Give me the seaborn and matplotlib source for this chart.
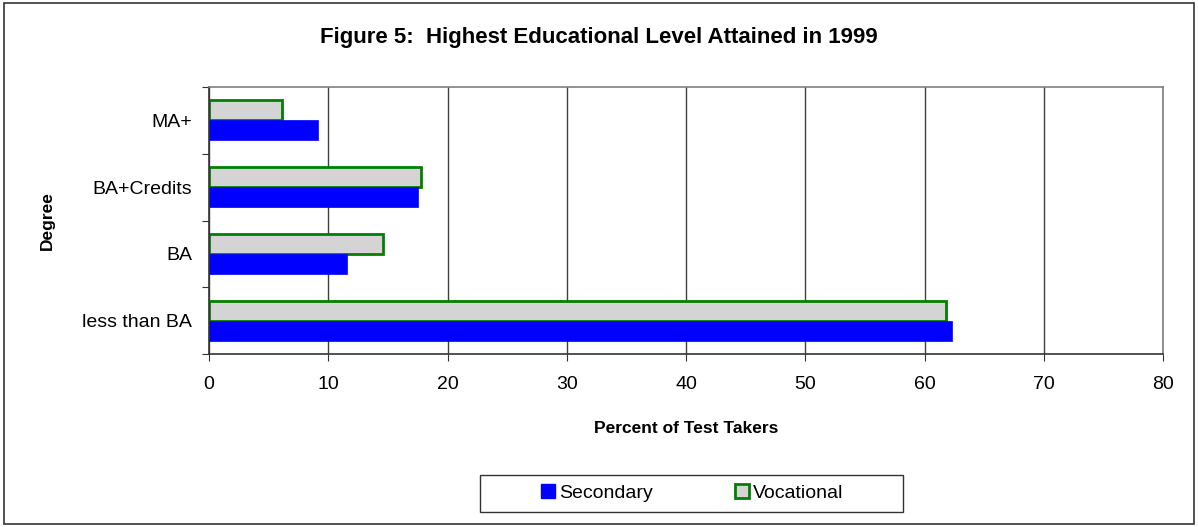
import pandas as pd
import matplotlib.pyplot as plt
import seaborn as sns
from matplotlib.patches import Patch, Rectangle

# Data
degrees = ['MA+', 'BA+Credits', 'BA', 'less than BA']
secondary = [9.1, 17.5, 11.6, 62.3]
vocational = [6.1, 17.8, 14.6, 61.8]

df = pd.DataFrame({
    'Degree': degrees * 2,
    'Percent': vocational + secondary,
    'Group': ['Vocational'] * 4 + ['Secondary'] * 4,
})

sns.set_style('white')
plt.rcParams['font.family'] = ['Liberation Sans', 'DejaVu Sans']
plt.rcParams['text.color'] = 'black'
plt.rcParams['axes.labelcolor'] = 'black'
plt.rcParams['xtick.color'] = 'black'
plt.rcParams['ytick.color'] = 'black'

W, H = 1198, 527
fig = plt.figure(figsize=(W / 100, H / 100), dpi=100)
ax = fig.add_axes([209 / W, 1 - 354 / H, (1163 - 209) / W, (354 - 87) / H])

sns.barplot(data=df, x='Percent', y='Degree', hue='Group', order=degrees,
            hue_order=['Vocational', 'Secondary'], orient='h', width=0.6,
            palette={'Vocational': '#d4d4d4', 'Secondary': '#0000ff'},
            ax=ax, legend=False, gap=0, saturation=1)

for bar in ax.containers[0]:
    bar.set_edgecolor('#008000')
    bar.set_linewidth(2)
for bar in ax.containers[1]:
    bar.set_edgecolor('#0000ff')
    bar.set_linewidth(0.5)

ax.set_xlim(0, 80)
ax.set_ylim(3.5, -0.5)
ax.set_xticks(range(0, 81, 10))
ax.xaxis.grid(True, color='#404040', linewidth=1)
ax.set_axisbelow(True)

# ticks between categories, labels at centres
ax.set_yticks([-0.5, 0.5, 1.5, 2.5, 3.5])
ax.set_yticklabels([])
ax.set_yticks(range(4), minor=True)
ax.set_yticklabels(degrees, minor=True)
ax.tick_params(axis='y', which='minor', length=0, pad=12, labelsize=14)
ax.tick_params(axis='y', which='major', length=5, direction='out', left=True, color='#333333')
ax.tick_params(axis='x', length=5, direction='out', bottom=True, labelsize=14, pad=11, color='#333333')

for side in ['left', 'bottom']:
    ax.spines[side].set_color('#333333')
for side in ['top', 'right']:
    ax.spines[side].set_color('#808080')
for s in ax.spines.values():
    s.set_linewidth(1.2)

ax.set_xlabel('Percent of Test Takers', fontsize=12.5, fontweight='bold', labelpad=20)
ax.set_ylabel('Degree', fontsize=12.5, fontweight='bold')
ax.yaxis.set_label_coords(-0.162, 0.5)

fig.text(0.5, 1 - 37 / H, 'Figure 5:  Highest Educational Level Attained in 1999',
         ha='center', va='center', fontsize=16, fontweight='bold')

handles = [Patch(facecolor='#0000ff', edgecolor='#0000ff', label='Secondary'),
           Patch(facecolor='#d4d4d4', edgecolor='#008000', linewidth=2, label='Vocational')]
leg = fig.legend(handles=handles, loc='center', bbox_to_anchor=(692 / W, 1 - 493 / H),
                 ncol=2, fontsize=14, frameon=False, columnspacing=4.2,
                 handlelength=0.75, handleheight=0.75, handletextpad=0.2,
                 borderpad=0, borderaxespad=0)
for t in leg.get_texts():
    t.set_color('black')

# legend box and outer chart border
fig.patches.append(Rectangle((480 / W, 1 - 512 / H), 423 / W, 37 / H,
                             transform=fig.transFigure, fill=False,
                             edgecolor='#333333', linewidth=1))
fig.patches.append(Rectangle((4 / W, 3 / H), 1190 / W, 521 / H,
                             transform=fig.transFigure, fill=False,
                             edgecolor='#333333', linewidth=1.2))

plt.savefig('out.png', dpi=100)
